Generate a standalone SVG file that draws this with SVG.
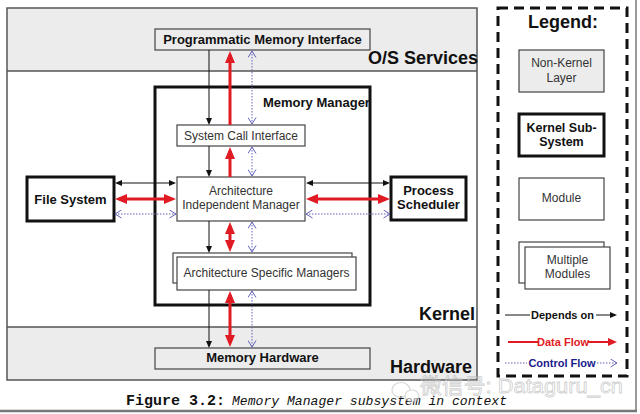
<svg xmlns="http://www.w3.org/2000/svg" width="640" height="414" viewBox="0 0 640 414">
<style>
.band{fill:#ececec;stroke:none}
.frame{fill:none;stroke:#555;stroke-width:1.5}
.sep{stroke:#555;stroke-width:1.5}
.gbox{fill:#ececec;stroke:#444;stroke-width:1.2}
.mod{fill:#fff;stroke:#444;stroke-width:1.2}
.ks{fill:#fff;stroke:#111;stroke-width:3}
.mm{fill:none;stroke:#111;stroke-width:3}
.b{font-family:"Liberation Sans",Arial,sans-serif;font-weight:bold;fill:#111}
.r{font-family:"Liberation Sans",Arial,sans-serif;fill:#333}
.big{font-size:18px}
.mid{font-size:13px}
.sm{font-size:12px}
.dep{stroke:#111;stroke-width:1;fill:none}
.data{stroke:#e01b24;stroke-width:3;fill:none}
.ctl{stroke:#6262b8;stroke-width:1;stroke-dasharray:1.5 1.5;fill:none}
.c{text-anchor:middle}
</style>
<defs>
<marker id="aB" markerUnits="userSpaceOnUse" viewBox="0 0 7 6" markerWidth="7" markerHeight="6" refX="5" refY="3" orient="auto-start-reverse"><path d="M0,0 L7,3 L0,6 z" fill="#111"/></marker>
<marker id="aR" markerUnits="userSpaceOnUse" viewBox="0 0 12 10" markerWidth="12" markerHeight="10" refX="8" refY="5" orient="auto-start-reverse"><path d="M0,0 L12,5 L0,10 z" fill="#e01b24"/></marker>
<marker id="aRs" markerUnits="userSpaceOnUse" viewBox="0 0 9 8" markerWidth="9" markerHeight="8" refX="6" refY="4" orient="auto-start-reverse"><path d="M0,0 L9,4 L0,8 z" fill="#e01b24"/></marker>
<marker id="aC" markerUnits="userSpaceOnUse" viewBox="0 0 8 9" markerWidth="8" markerHeight="9" refX="7" refY="4.5" orient="auto-start-reverse"><path d="M0.5,0.5 L7,4.5 L0.5,8.5" fill="none" stroke="#6262b8" stroke-width="1"/></marker>
</defs>
<rect width="640" height="414" fill="#fff"/>
<line x1="636" y1="0" x2="636" y2="411" stroke="#999" stroke-width="2"/>
<line x1="0" y1="411" x2="637" y2="411" stroke="#777" stroke-width="2.5"/>

<g id="layers">
<rect class="band" x="7" y="8" width="470" height="63"/>
<rect class="band" x="7" y="327" width="470" height="53"/>
<line class="sep" x1="7" y1="71" x2="477" y2="71"/>
<line class="sep" x1="7" y1="327" x2="477" y2="327"/>
<rect class="frame" x="7" y="8" width="470" height="372"/>
<text class="b big" x="478" y="64" text-anchor="end">O/S Services</text>
<text class="b big" x="475" y="320" text-anchor="end">Kernel</text>
<text class="b big" x="472" y="373" text-anchor="end">Hardware</text>
</g>

<g id="pmi">
<rect class="gbox" x="155" y="29" width="215" height="21"/>
<text class="b mid c" x="262.5" y="44">Programmatic Memory Interface</text>
</g>
<g id="memory-manager">
<rect class="mm" x="155" y="87" width="215" height="218"/>
<text class="b mid" x="263" y="107">Memory Manager</text>
</g>
<g id="sci">
<rect class="mod" x="177" y="125" width="128" height="21"/>
<text class="r sm c" x="241" y="140">System Call Interface</text>
</g>
<g id="aim">
<rect class="mod" x="177" y="177" width="128" height="44"/>
<text class="r sm c" x="241" y="195">Architecture</text>
<text class="r sm c" x="241" y="209">Independent Manager</text>
</g>
<g id="asm">
<rect class="mod" x="173" y="253" width="179" height="30"/>
<rect class="mod" x="177" y="257" width="179" height="33"/>
<text class="r sm c" x="266.5" y="277">Architecture Specific Managers</text>
</g>
<g id="mh">
<rect class="gbox" x="155" y="348" width="215" height="21"/>
<text class="b mid c" x="262.5" y="362">Memory Hardware</text>
</g>
<g id="fs">
<rect class="ks" x="27" y="177" width="87" height="44"/>
<text class="b mid c" x="70.5" y="203.5">File System</text>
</g>
<g id="ps">
<rect class="ks" x="391" y="177" width="75" height="43"/>
<text class="b mid c" x="428.5" y="195">Process</text>
<text class="b mid c" x="428.5" y="209">Scheduler</text>
</g>

<g id="connectors">
<line class="dep" x1="209" y1="50" x2="209" y2="123" marker-end="url(#aB)"/>
<line class="dep" x1="209" y1="146" x2="209" y2="175" marker-end="url(#aB)"/>
<line class="dep" x1="209" y1="221" x2="209" y2="251" marker-end="url(#aB)"/>
<line class="dep" x1="209" y1="290" x2="209" y2="346" marker-end="url(#aB)"/>
<line class="data" x1="230" y1="125" x2="230" y2="55" marker-end="url(#aR)"/>
<line class="data" x1="230" y1="177" x2="230" y2="151" marker-end="url(#aR)"/>
<line class="data" x1="230" y1="226" x2="230" y2="248" marker-start="url(#aR)" marker-end="url(#aR)"/>
<line class="data" x1="230" y1="295" x2="230" y2="343" marker-start="url(#aR)" marker-end="url(#aR)"/>
<line class="ctl" x1="252" y1="51" x2="252" y2="124" marker-start="url(#aC)" marker-end="url(#aC)"/>
<line class="ctl" x1="252" y1="147" x2="252" y2="176" marker-start="url(#aC)" marker-end="url(#aC)"/>
<line class="ctl" x1="252" y1="222" x2="252" y2="252" marker-start="url(#aC)" marker-end="url(#aC)"/>
<line class="ctl" x1="252" y1="291" x2="252" y2="347" marker-start="url(#aC)" marker-end="url(#aC)"/>
<line class="dep" x1="117" y1="183" x2="174" y2="183" marker-start="url(#aB)" marker-end="url(#aB)"/>
<line class="dep" x1="308" y1="183" x2="388" y2="183" marker-start="url(#aB)" marker-end="url(#aB)"/>
<line class="data" x1="119" y1="199" x2="172" y2="199" marker-start="url(#aR)" marker-end="url(#aR)"/>
<line class="data" x1="310" y1="199" x2="386" y2="199" marker-start="url(#aR)" marker-end="url(#aR)"/>
<line class="ctl" x1="115" y1="214" x2="176" y2="214" marker-start="url(#aC)" marker-end="url(#aC)"/>
<line class="ctl" x1="306" y1="214" x2="390" y2="214" marker-start="url(#aC)" marker-end="url(#aC)"/>
</g>

<g id="legend">
<rect x="498" y="8" width="129" height="368" fill="none" stroke="#111" stroke-width="3" stroke-dasharray="10 6"/>
<text class="b big c" x="563" y="28">Legend:</text>
<rect class="gbox" x="519" y="50" width="85" height="42"/>
<text class="r sm c" x="561.5" y="67">Non-Kernel</text>
<text class="r sm c" x="561.5" y="82">Layer</text>
<rect class="ks" x="519" y="114" width="85" height="42"/>
<text class="b c" x="561.5" y="131.5" font-size="12.5">Kernel Sub-</text>
<text class="b c" x="561.5" y="146" font-size="12.5">System</text>
<rect class="mod" x="519" y="178" width="85" height="42"/>
<text class="r sm c" x="561.5" y="202">Module</text>
<rect class="mod" x="519" y="242" width="85" height="41"/>
<rect class="mod" x="525" y="247" width="85" height="42"/>
<text class="r sm c" x="567.5" y="264">Multiple</text>
<text class="r sm c" x="567.5" y="278">Modules</text>
<line class="dep" x1="505" y1="315" x2="530" y2="315"/>
<line class="dep" x1="596" y1="315" x2="615" y2="315" marker-end="url(#aB)"/>
<text class="b c" x="562.5" y="319" font-size="11">Depends on</text>
<line x1="508" y1="342" x2="538" y2="342" stroke="#e01b24" stroke-width="2"/>
<line x1="588" y1="342" x2="614" y2="342" stroke="#e01b24" stroke-width="2" marker-end="url(#aRs)"/>
<text class="c" x="563" y="346" font-size="11" font-family="Liberation Sans, Arial, sans-serif" font-weight="bold" fill="#e01b24">Data Flow</text>
<line class="ctl" x1="505" y1="363" x2="527" y2="363"/>
<line class="ctl" x1="597" y1="363" x2="617" y2="363" marker-end="url(#aC)"/>
<text class="c" x="562" y="367" font-size="11" font-family="Liberation Sans, Arial, sans-serif" font-weight="bold" fill="#1a1a8c">Control Flow</text>
</g>

<g id="caption">
<text y="405" font-family="Liberation Mono, Courier New, monospace" fill="#111"><tspan x="126" font-weight="bold" font-size="15">Figure 3.2:</tspan><tspan x="232" font-style="italic" font-size="13.1">Memory Manager subsystem in context</tspan></text>
</g>

<g id="watermark" opacity="0.55">
<ellipse cx="401" cy="390" rx="9" ry="7.5" fill="none" stroke="#bbb" stroke-width="1.2"/>
<ellipse cx="412" cy="396" rx="7" ry="6" fill="#fff" stroke="#bbb" stroke-width="1.2"/>
<text x="420" y="393" font-size="21" textLength="203" lengthAdjust="spacingAndGlyphs" font-family="Liberation Sans, Noto Sans CJK SC, sans-serif" fill="#fff" stroke="#aaa" stroke-width="0.8">微信号: Dataguru_cn</text>
</g>
</svg>
